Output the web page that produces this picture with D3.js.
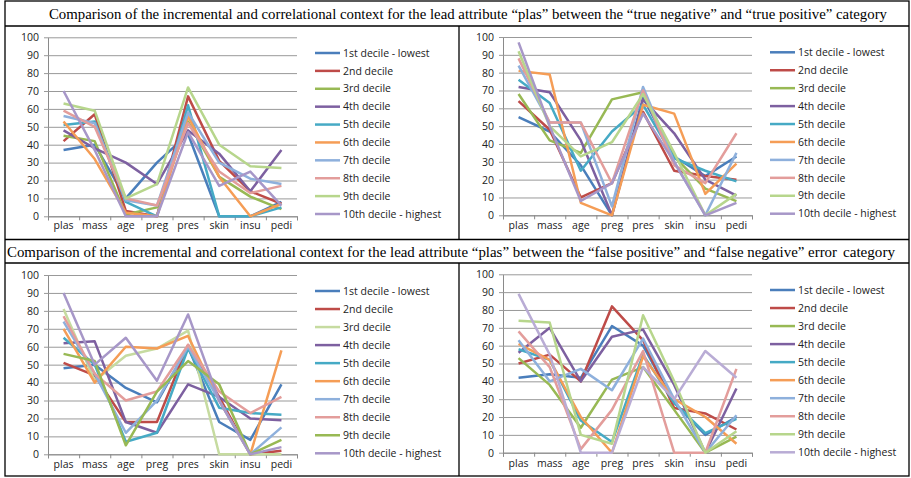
<!DOCTYPE html>
<html><head><meta charset="utf-8">
<script src="https://cdn.jsdelivr.net/npm/d3@7"></script>
<style>
html,body{margin:0;padding:0;background:#fff;}
svg{display:block;}
</style></head>
<body>
<svg id="chart" width="911" height="478"></svg>
<script>
// ---------- data ----------
const categories = ["plas","mass","age","preg","pres","skin","insu","pedi"];
const seriesNames = ["1st decile - lowest","2nd decile","3rd decile","4th decile","5th decile",
  "6th decile","7th decile","8th decile","9th decile","10th decile - highest"];
const yTicks = [0,10,20,30,40,50,60,70,80,90,100];
const titleTop = "Comparison of the incremental and correlational context for the lead attribute \u201cplas\u201d between the \u201ctrue negative\u201d and \u201ctrue positive\u201d category";
const titleBottom = "Comparison of the incremental and correlational context for the lead attribute \u201cplas\u201d between the \u201cfalse positive\u201d and \u201cfalse negative\u201d error";
const titleBottomEnd = "category";

// true negative (top left)
const trueNegative = [
  [37, 40, 10, 30, 46, 0, 0, 8],
  [42, 57, 3, 0, 67, 31, 14, 7],
  [45, 42, 1, 5, 53, 22, 11, 4],
  [48, 38, 30, 18, 48, 35, 14, 37],
  [51, 53, 8, 0, 62, 0, 0, 5],
  [53, 32, 2, 0, 56, 22, 0, 7],
  [56, 52, 9, 6, 58, 30, 21, 18],
  [59, 50, 10, 6, 52, 25, 13, 17],
  [63, 59, 10, 18, 72, 40, 28, 27],
  [70, 37, 0, 0, 47, 17, 25, 6]
];
// true positive (top right)
const truePositive = [
  [55, 47, 28, 0, 66, 33, 22, 33],
  [64, 48, 10, 18, 58, 25, 22, 20],
  [68, 42, 35, 65, 69, 33, 15, 8],
  [72, 69, 42, 0, 65, 46, 20, 11],
  [76, 63, 25, 47, 62, 32, 25, 19],
  [81, 79, 7, 0, 62, 57, 12, 29],
  [84, 52, 52, 5, 72, 30, 0, 35],
  [88, 52, 52, 18, 70, 28, 18, 46],
  [92, 50, 33, 41, 68, 35, 0, 12],
  [97, 50, 8, 18, 57, 30, 0, 7]
];
// false positive (bottom left)
const falsePositive = [
  [48, 50, 37, 29, 60, 18, 8, 39],
  [51, 44, 18, 18, 61, 32, 0, 2],
  [81, 41, 55, 59, 69, 0, 0, 0],
  [62, 63, 18, 12, 39, 32, 20, 19],
  [65, 50, 7, 12, 59, 26, 23, 22],
  [70, 40, 60, 59, 66, 30, 0, 58],
  [74, 45, 12, 30, 60, 30, 0, 15],
  [77, 45, 30, 35, 61, 35, 23, 32],
  [56, 52, 5, 35, 52, 39, 0, 8],
  [90, 50, 65, 41, 78, 30, 0, 4]
];
// false negative (bottom right)
const falseNegative = [
  [42, 44, 42, 71, 60, 28, 10, 20],
  [50, 55, 40, 82, 63, 25, 22, 13],
  [53, 38, 14, 41, 48, 24, 0, 9],
  [56, 70, 40, 65, 69, 38, 0, 36],
  [58, 52, 18, 6, 55, 28, 11, 19],
  [61, 52, 20, 0, 54, 30, 20, 5],
  [63, 40, 47, 35, 64, 30, 0, 21],
  [68, 48, 2, 24, 57, 0, 0, 47],
  [74, 73, 10, 5, 77, 40, 0, 12],
  [89, 55, 0, 0, 48, 30, 57, 42]
];

const colorsA = ["#4A7EBB","#BE4B48","#98B954","#7D60A0","#46AAC5","#F59D56","#8EB0DC","#E39D9B","#B7D68C","#A797C8"];
const colorsC = ["#4A7EBB","#BE4B48","#C6DBA0","#7D60A0","#46AAC5","#F59D56","#8EB0DC","#E39D9B","#98B954","#A797C8"];
const colorsD = ["#4A7EBB","#BE4B48","#98B954","#7D60A0","#46AAC5","#F59D56","#8EB0DC","#E39D9B","#B7D68C","#B9ACD5"];

// ---------- layout ----------
const svg = d3.select("#chart");
const font = "'Open Sans', 'DejaVu Sans', sans-serif";

const panels = [
  {data: trueNegative, colors: colorsA, x0: 48, x1: 297, yb: 216.3, yt: 37.3, legX: 315, legY0: 53, legY1: 214, lblY: 229},
  {data: truePositive, colors: colorsA, x0: 503, x1: 752, yb: 215.3, yt: 37, legX: 770, legY0: 52.3, legY1: 213.7, lblY: 229},
  {data: falsePositive, colors: colorsC, x0: 48, x1: 297, yb: 454.3, yt: 275, legX: 315, legY0: 291, legY1: 453.3, lblY: 468},
  {data: falseNegative, colors: colorsD, x0: 503, x1: 752, yb: 452.7, yt: 274.3, legX: 770, legY0: 290, legY1: 452.3, lblY: 467}
];

panels.forEach(p => {
  const g = svg.append("g");
  const x = d3.scaleBand().domain(categories).range([p.x0, p.x1]).padding(0);
  const xb = d3.scaleLinear().domain([0, categories.length]).range([p.x0, p.x1]);
  const y = d3.scaleLinear().domain([0, 100]).range([p.yb, p.yt]);

  const ya = g.append("g").attr("transform", `translate(${p.x0},0)`)
    .call(d3.axisLeft(y).tickValues(yTicks).tickSizeInner(-(p.x1 - p.x0)).tickSizeOuter(0).tickPadding(9));
  ya.select(".domain").attr("stroke", "#8a8a8a");
  ya.selectAll(".tick line").attr("stroke", "#999").attr("x1", -4);
  ya.selectAll(".tick text").attr("font-family", font).attr("font-size", 10.5).attr("fill", "#222");

  const xt = g.append("g").attr("transform", `translate(0,${p.yb})`)
    .call(d3.axisBottom(xb).tickValues(d3.range(0, categories.length + 1)).tickSize(4).tickFormat(""));
  xt.select(".domain").attr("stroke", "#8a8a8a");
  xt.selectAll(".tick line").attr("stroke", "#8a8a8a");

  const xl = g.append("g").attr("transform", `translate(0,${p.lblY - 7})`)
    .call(d3.axisBottom(x).tickSize(0).tickPadding(0));
  xl.select(".domain").remove();
  xl.selectAll(".tick text").attr("font-family", font).attr("font-size", 10.5).attr("fill", "#222");

  const line = d3.line().x((d, i) => x(categories[i]) + x.bandwidth() / 2).y(d => y(d));
  p.data.forEach((vals, si) => {
    g.append("path").datum(vals).attr("d", line)
      .attr("fill", "none").attr("stroke", p.colors[si]).attr("stroke-width", 2.5)
      .attr("stroke-linejoin", "round");
  });

  const ly = d3.scalePoint().domain(seriesNames).range([p.legY0, p.legY1]);
  seriesNames.forEach((name, si) => {
    g.append("line").attr("x1", p.legX).attr("x2", p.legX + 25)
      .attr("y1", ly(name)).attr("y2", ly(name))
      .attr("stroke", p.colors[si]).attr("stroke-width", 2.5);
    g.append("text").attr("x", p.legX + 28).attr("y", ly(name)).attr("dy", "0.35em")
      .attr("font-family", font).attr("font-size", 10.5).attr("fill", "#222").text(name);
  });
});

// ---------- table frame ----------
const frame = svg.append("g").attr("stroke", "#000").attr("stroke-width", 1.3).attr("fill", "none");
frame.append("rect").attr("x", 5).attr("y", 1).attr("width", 904).attr("height", 475);
[26, 239.5, 263].forEach(yy => frame.append("line").attr("x1", 5).attr("x2", 909).attr("y1", yy).attr("y2", yy));
frame.append("line").attr("x1", 459).attr("x2", 459).attr("y1", 26).attr("y2", 239.5);
frame.append("line").attr("x1", 459).attr("x2", 459).attr("y1", 263).attr("y2", 476);

// ---------- titles ----------
const serif = "'Liberation Serif', 'DejaVu Serif', serif";
svg.append("text").attr("x", 49).attr("y", 19)
  .attr("font-family", serif).attr("font-size", 14.5)
  .attr("textLength", 838).attr("lengthAdjust", "spacingAndGlyphs").attr("fill", "#000").text(titleTop);
svg.append("text").attr("x", 7).attr("y", 257)
  .attr("font-family", serif).attr("font-size", 15).attr("fill", "#000")
  .attr("textLength", 830).attr("lengthAdjust", "spacingAndGlyphs").text(titleBottom);
svg.append("text").attr("x", 843).attr("y", 257)
  .attr("font-family", serif).attr("font-size", 15.5).attr("fill", "#000")
  .attr("textLength", 52).attr("lengthAdjust", "spacingAndGlyphs").text(titleBottomEnd);
</script>
</body></html>
